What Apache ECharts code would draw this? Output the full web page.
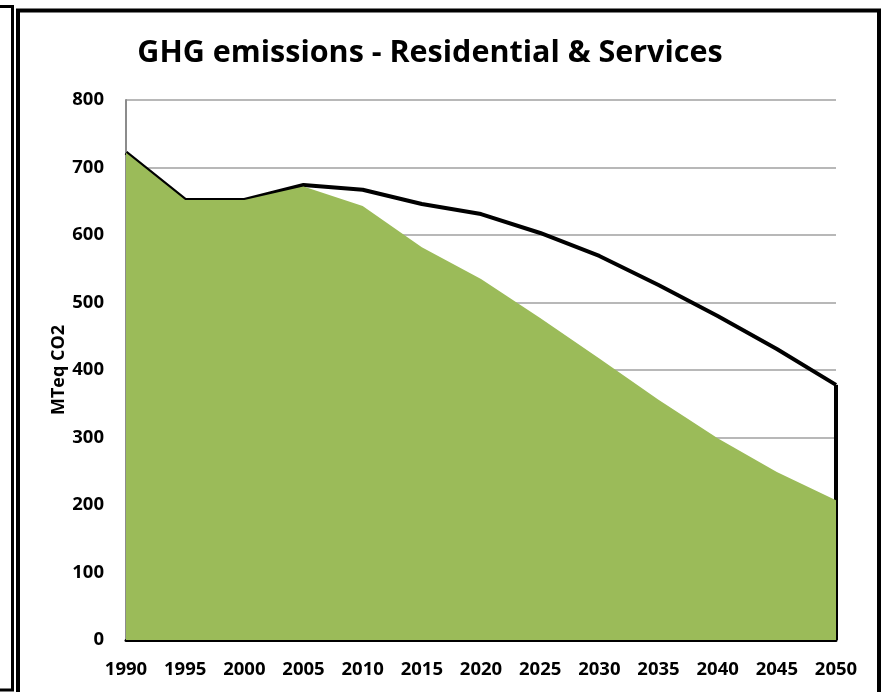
<!DOCTYPE html>
<html>
<head>
<meta charset="utf-8">
<script src="https://cdn.jsdelivr.net/npm/echarts@6/dist/echarts.min.js"></script>
<style>
  html, body { margin: 0; padding: 0; background: #fff; }
  #chart { width: 887px; height: 692px; }
</style>
</head>
<body>
<div id="chart"></div>
<script>
// Years on the horizontal axis
const years = ['1990','1995','2000','2005','2010','2015','2020','2025','2030','2035','2040','2045','2050'];
// Reference trajectory (black outline), MTeq CO2
const baseline = [722, 652, 652, 674, 667, 646, 631, 603, 569, 526, 480, 431, 378];
// Reduced-emission scenario (green area), MTeq CO2
const scenario = [722, 652, 652, 672, 643, 582, 535, 477, 417, 356, 299, 249, 207];
// Value-axis tick settings
const yMin = 0, yMax = 800, yStep = 100;

const FONT = '"Open Sans", Lato, sans-serif';
const chart = echarts.init(document.getElementById('chart'), null, { renderer: 'canvas' });

const lastYear = years[years.length - 1];
const lastBase = baseline[baseline.length - 1];

chart.setOption({
  animation: false,
  backgroundColor: '#ffffff',
  title: {
    text: 'GHG emissions - Residential & Services',
    left: 425, top: 33, textAlign: 'center',
    textStyle: { fontFamily: FONT, fontWeight: 'bold', fontSize: 30.5, color: '#000' }
  },
  graphic: [
    // outer chart frame
    { type: 'rect', shape: { x: 18, y: 10.5, width: 861, height: 700 },
      style: { fill: 'none', stroke: '#000', lineWidth: 4 }, z: 100 },
    // edge of the neighbouring frame on the left
    { type: 'polyline', shape: { points: [[0, 6.5], [12.5, 6.5], [12.5, 690], [0, 690]] },
      style: { fill: 'none', stroke: '#000', lineWidth: 3 }, z: 100 }
  ],
  grid: { left: 126, right: 51, top: 100, bottom: 52 },
  xAxis: {
    type: 'category', data: years, boundaryGap: false,
    axisLine: { lineStyle: { color: '#000', width: 3 } },
    axisTick: { show: false },
    axisLabel: { fontFamily: FONT, fontWeight: 'bold', fontSize: 18.5, color: '#000', margin: 20 },
    splitLine: { show: false }
  },
  yAxis: {
    type: 'value', min: yMin, max: yMax, interval: yStep,
    name: 'MTeq CO2', nameLocation: 'middle', nameGap: 58, nameRotate: 90,
    nameMoveOverlap: false,
    nameTextStyle: { fontFamily: FONT, fontWeight: 'bold', fontSize: 18, color: '#000' },
    axisLine: { show: true, lineStyle: { color: '#8c8c8c', width: 2 } },
    axisTick: { show: false },
    axisLabel: { fontFamily: FONT, fontWeight: 'bold', fontSize: 18.5, color: '#000', margin: 22 },
    splitLine: { lineStyle: { color: '#a0a0a0', width: 1.5 } }
  },
  series: [
    {
      name: 'baseline', type: 'line', data: baseline, symbol: 'none', z: 2,
      lineStyle: { color: '#000', width: 4 }
    },
    {
      name: 'baseline-end', type: 'line', symbol: 'none', z: 2,
      data: [[lastYear, lastBase], [lastYear, 0]],
      lineStyle: { color: '#000', width: 4 }
    },
    {
      name: 'scenario', type: 'line', data: scenario, symbol: 'none', z: 3,
      lineStyle: { width: 0, opacity: 0 },
      areaStyle: { color: '#9BBB59', opacity: 1 }
    }
  ]
});
</script>
</body>
</html>
